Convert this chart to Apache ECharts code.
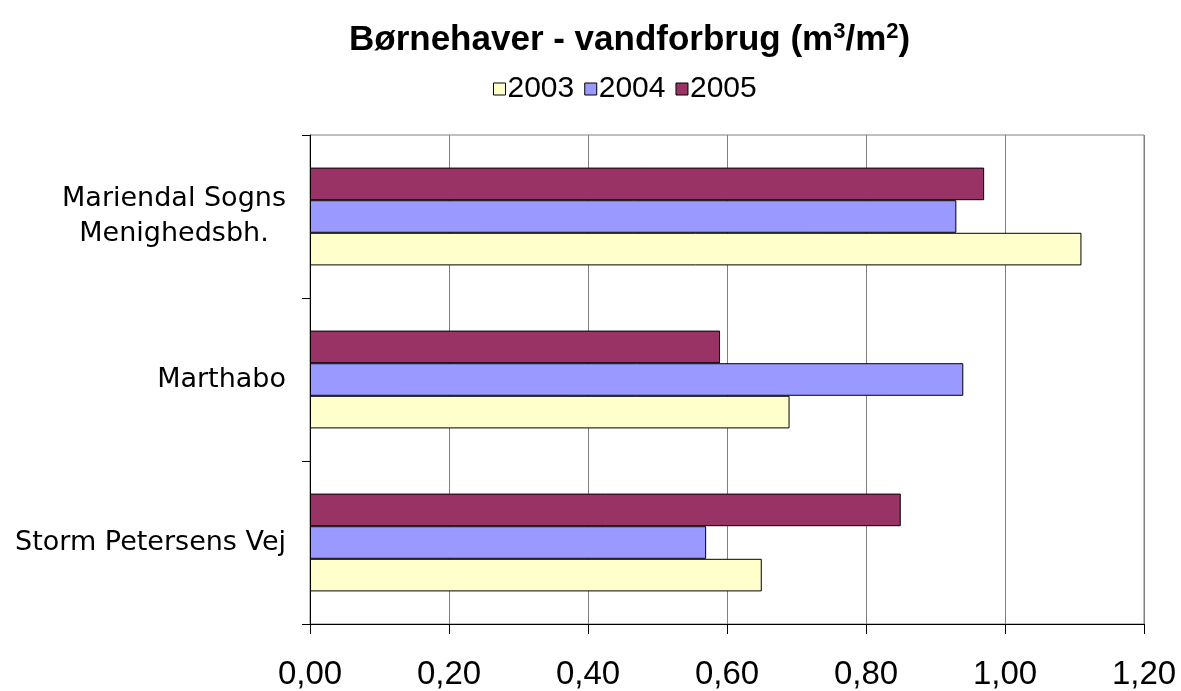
<!DOCTYPE html>
<html>
<head>
<meta charset="utf-8">
<script src="https://cdn.jsdelivr.net/npm/echarts@6/dist/echarts.min.js"></script>
<style>html,body{margin:0;padding:0;background:#fff;}#chart{width:1181px;height:691px;}</style>
</head>
<body>
<div id="chart"></div>
<script>
var categories = ['Storm Petersens Vej', 'Marthabo', 'Mariendal Sogns Menighedsbh.'];
var seriesNames = ['2003', '2004', '2005'];
var values2003 = [0.65, 0.69, 1.11];
var values2004 = [0.57, 0.94, 0.93];
var values2005 = [0.85, 0.59, 0.97];
var xTicks = [0, 0.2, 0.4, 0.6, 0.8, 1.0, 1.2];
var colors = ['#FFFFCC', '#9999FF', '#993366'];

var chart = echarts.init(document.getElementById('chart'));
var allValues = [values2003, values2004, values2005];
var series = [];
for (var i = seriesNames.length - 1; i >= 0; i--) {
  series.push({
    name: seriesNames[i],
    type: 'bar',
    data: allValues[i],
    barGap: '0%',
    barCategoryGap: '40%',
    itemStyle: { color: colors[i], borderColor: '#000', borderWidth: 1 }
  });
}
chart.setOption({
  animation: false,
  title: {
    text: '{t|Børnehaver - vandforbrug (m}{s|3}{t|/m}{s|2}{t|)}',
    left: 344,
    top: 16,
    textStyle: {
      rich: {
        t: { fontFamily: 'Liberation Sans, Arial', fontWeight: 'bold', fontSize: 35, color: '#000' },
        s: { fontFamily: 'Liberation Sans, Arial', fontWeight: 'bold', fontSize: 22, color: '#000', verticalAlign: 'top', padding: [0, 0, 16, 0] }
      }
    }
  },
  legend: {
    data: seriesNames,
    top: 69,
    left: 488,
    itemWidth: 12,
    itemHeight: 12,
    itemGap: 10,
    icon: 'rect',
    itemStyle: { borderColor: '#000', borderWidth: 1 },
    textStyle: { fontFamily: 'Liberation Sans, Arial', fontSize: 30, color: '#000', padding: [0, 0, 0, -3] }
  },
  grid: { left: 310, right: 37, top: 135, bottom: 65, containLabel: false, show: true, borderColor: '#808080', borderWidth: 1 },
  xAxis: {
    type: 'value',
    min: 0,
    max: 1.2,
    interval: 0.2,
    axisLine: { show: true, lineStyle: { color: '#000', width: 1 } },
    axisTick: { show: true, length: 10, lineStyle: { color: '#000' } },
    splitLine: { show: true, lineStyle: { color: '#808080', width: 1 } },
    axisLabel: {
      margin: 34,
      fontFamily: 'Liberation Sans, Arial',
      fontSize: 33,
      color: '#000',
      formatter: function (v) {
        var idx = xTicks.indexOf(Math.round(v * 10) / 10);
        return (idx >= 0 ? xTicks[idx] : v).toFixed(2).replace('.', ',');
      }
    }
  },
  yAxis: {
    type: 'category',
    data: categories,
    axisLine: { show: true, lineStyle: { color: '#000', width: 1 } },
    axisTick: { show: true, length: 8, lineStyle: { color: '#000' } },
    splitLine: { show: false },
    axisLabel: {
      margin: 24,
      fontFamily: 'DejaVu Sans',
      fontSize: 27,
      color: '#000',
      lineHeight: 35,
      formatter: function (v) {
        if (v.indexOf('Menighedsbh.') >= 0) {
          return '{c|Mariendal Sogns}\n{c|Menighedsbh.}';
        }
        return v;
      },
      rich: {
        c: { width: 224, align: 'center', fontFamily: 'DejaVu Sans', fontSize: 27, lineHeight: 35, color: '#000' }
      }
    }
  },
  series: series
});
</script>
</body>
</html>
